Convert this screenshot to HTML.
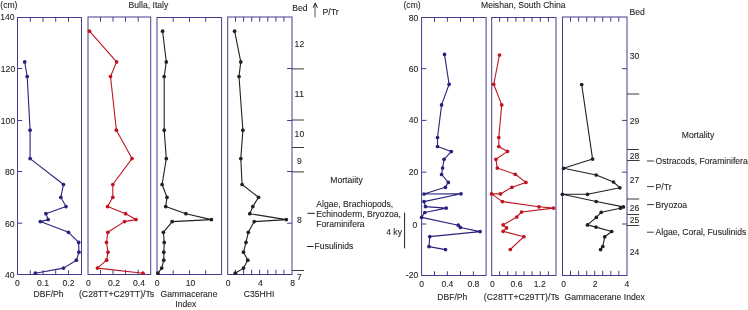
<!DOCTYPE html>
<html><head><meta charset="utf-8"><style>
html,body{margin:0;padding:0;background:#fff;}
svg{display:block;will-change:transform;}
text{font-family:"Liberation Sans",sans-serif;stroke:#231f20;stroke-width:0.1px;}
</style></head><body>
<svg width="748" height="310" viewBox="0 0 748 310">
<rect width="748" height="310" fill="#fff"/>
<rect x="17.5" y="17.5" width="64.0" height="257.0" fill="none" stroke="#443d8e" stroke-width="1.0"/>
<rect x="88.0" y="17.0" width="62.7" height="257.5" fill="none" stroke="#443d8e" stroke-width="1.0"/>
<rect x="157.0" y="17.5" width="64.6" height="257.0" fill="none" stroke="#443d8e" stroke-width="1.0"/>
<rect x="227.7" y="17.0" width="64.3" height="257.5" fill="none" stroke="#443d8e" stroke-width="1.0"/>
<line x1="30.3" y1="17.5" x2="30.3" y2="21.7" stroke="#443d8e" stroke-width="1.0"/>
<line x1="30.3" y1="274.5" x2="30.3" y2="270.3" stroke="#443d8e" stroke-width="1.0"/>
<line x1="43.0" y1="17.5" x2="43.0" y2="21.7" stroke="#443d8e" stroke-width="1.0"/>
<line x1="43.0" y1="274.5" x2="43.0" y2="270.3" stroke="#443d8e" stroke-width="1.0"/>
<line x1="55.7" y1="17.5" x2="55.7" y2="21.7" stroke="#443d8e" stroke-width="1.0"/>
<line x1="55.7" y1="274.5" x2="55.7" y2="270.3" stroke="#443d8e" stroke-width="1.0"/>
<line x1="68.5" y1="17.5" x2="68.5" y2="21.7" stroke="#443d8e" stroke-width="1.0"/>
<line x1="68.5" y1="274.5" x2="68.5" y2="270.3" stroke="#443d8e" stroke-width="1.0"/>
<line x1="100.5" y1="17.0" x2="100.5" y2="21.7" stroke="#443d8e" stroke-width="1.0"/>
<line x1="100.5" y1="274.5" x2="100.5" y2="269.8" stroke="#443d8e" stroke-width="1.0"/>
<line x1="113.0" y1="17.0" x2="113.0" y2="21.7" stroke="#443d8e" stroke-width="1.0"/>
<line x1="113.0" y1="274.5" x2="113.0" y2="269.8" stroke="#443d8e" stroke-width="1.0"/>
<line x1="125.5" y1="17.0" x2="125.5" y2="21.7" stroke="#443d8e" stroke-width="1.0"/>
<line x1="125.5" y1="274.5" x2="125.5" y2="269.8" stroke="#443d8e" stroke-width="1.0"/>
<line x1="138.2" y1="17.0" x2="138.2" y2="21.7" stroke="#443d8e" stroke-width="1.0"/>
<line x1="138.2" y1="274.5" x2="138.2" y2="269.8" stroke="#443d8e" stroke-width="1.0"/>
<line x1="173.2" y1="17.5" x2="173.2" y2="21.7" stroke="#443d8e" stroke-width="1.0"/>
<line x1="173.2" y1="274.5" x2="173.2" y2="270.3" stroke="#443d8e" stroke-width="1.0"/>
<line x1="189.5" y1="17.5" x2="189.5" y2="21.7" stroke="#443d8e" stroke-width="1.0"/>
<line x1="189.5" y1="274.5" x2="189.5" y2="270.3" stroke="#443d8e" stroke-width="1.0"/>
<line x1="205.7" y1="17.5" x2="205.7" y2="21.7" stroke="#443d8e" stroke-width="1.0"/>
<line x1="205.7" y1="274.5" x2="205.7" y2="270.3" stroke="#443d8e" stroke-width="1.0"/>
<line x1="235.5" y1="17.0" x2="235.5" y2="21.7" stroke="#443d8e" stroke-width="1.0"/>
<line x1="235.5" y1="274.5" x2="235.5" y2="269.8" stroke="#443d8e" stroke-width="1.0"/>
<line x1="243.6" y1="17.0" x2="243.6" y2="21.7" stroke="#443d8e" stroke-width="1.0"/>
<line x1="243.6" y1="274.5" x2="243.6" y2="269.8" stroke="#443d8e" stroke-width="1.0"/>
<line x1="251.7" y1="17.0" x2="251.7" y2="21.7" stroke="#443d8e" stroke-width="1.0"/>
<line x1="251.7" y1="274.5" x2="251.7" y2="269.8" stroke="#443d8e" stroke-width="1.0"/>
<line x1="259.7" y1="17.0" x2="259.7" y2="21.7" stroke="#443d8e" stroke-width="1.0"/>
<line x1="259.7" y1="274.5" x2="259.7" y2="269.8" stroke="#443d8e" stroke-width="1.0"/>
<line x1="267.8" y1="17.0" x2="267.8" y2="21.7" stroke="#443d8e" stroke-width="1.0"/>
<line x1="267.8" y1="274.5" x2="267.8" y2="269.8" stroke="#443d8e" stroke-width="1.0"/>
<line x1="275.9" y1="17.0" x2="275.9" y2="21.7" stroke="#443d8e" stroke-width="1.0"/>
<line x1="275.9" y1="274.5" x2="275.9" y2="269.8" stroke="#443d8e" stroke-width="1.0"/>
<line x1="283.9" y1="17.0" x2="283.9" y2="21.7" stroke="#443d8e" stroke-width="1.0"/>
<line x1="283.9" y1="274.5" x2="283.9" y2="269.8" stroke="#443d8e" stroke-width="1.0"/>
<line x1="17.5" y1="68.5" x2="22.3" y2="68.5" stroke="#443d8e" stroke-width="1.0"/>
<line x1="292.0" y1="68.5" x2="287.1" y2="68.5" stroke="#443d8e" stroke-width="1.0"/>
<line x1="17.5" y1="120.5" x2="22.3" y2="120.5" stroke="#443d8e" stroke-width="1.0"/>
<line x1="292.0" y1="120.5" x2="287.1" y2="120.5" stroke="#443d8e" stroke-width="1.0"/>
<line x1="17.5" y1="171.5" x2="22.3" y2="171.5" stroke="#443d8e" stroke-width="1.0"/>
<line x1="292.0" y1="171.5" x2="287.1" y2="171.5" stroke="#443d8e" stroke-width="1.0"/>
<line x1="17.5" y1="223.2" x2="22.3" y2="223.2" stroke="#443d8e" stroke-width="1.0"/>
<line x1="292.0" y1="223.2" x2="287.1" y2="223.2" stroke="#443d8e" stroke-width="1.0"/>
<line x1="292.0" y1="68.9" x2="304.0" y2="68.9" stroke="#3a3a3a" stroke-width="1.0"/>
<line x1="292.0" y1="120.0" x2="304.0" y2="120.0" stroke="#3a3a3a" stroke-width="1.0"/>
<line x1="292.0" y1="147.5" x2="304.0" y2="147.5" stroke="#3a3a3a" stroke-width="1.0"/>
<line x1="292.0" y1="171.9" x2="304.0" y2="171.9" stroke="#3a3a3a" stroke-width="1.0"/>
<line x1="292.0" y1="270.5" x2="304.0" y2="270.5" stroke="#3a3a3a" stroke-width="1.0"/>
<polyline points="24.7,61.9 27.2,76.5 30.1,130.2 30.1,158.6 63.5,184.5 60.8,197.3 66.0,206.6 45.9,213.7 48.2,219.6 40.3,221.6 68.5,232.3 78.7,242.4 78.9,252.2 76.4,260.2 63.5,268.1 35.3,273.2" fill="none" stroke="#27237c" stroke-width="1.1" stroke-linejoin="round"/>
<circle cx="24.7" cy="61.9" r="1.85" fill="#27237c"/>
<circle cx="27.2" cy="76.5" r="1.85" fill="#27237c"/>
<circle cx="30.1" cy="130.2" r="1.85" fill="#27237c"/>
<circle cx="30.1" cy="158.6" r="1.85" fill="#27237c"/>
<circle cx="63.5" cy="184.5" r="1.85" fill="#27237c"/>
<circle cx="60.8" cy="197.3" r="1.85" fill="#27237c"/>
<circle cx="66.0" cy="206.6" r="1.85" fill="#27237c"/>
<circle cx="45.9" cy="213.7" r="1.85" fill="#27237c"/>
<circle cx="48.2" cy="219.6" r="1.85" fill="#27237c"/>
<circle cx="40.3" cy="221.6" r="1.85" fill="#27237c"/>
<circle cx="68.5" cy="232.3" r="1.85" fill="#27237c"/>
<circle cx="78.7" cy="242.4" r="1.85" fill="#27237c"/>
<circle cx="78.9" cy="252.2" r="1.85" fill="#27237c"/>
<circle cx="76.4" cy="260.2" r="1.85" fill="#27237c"/>
<circle cx="63.5" cy="268.1" r="1.85" fill="#27237c"/>
<circle cx="35.3" cy="273.2" r="1.85" fill="#27237c"/>
<polyline points="89.5,31.2 116.6,61.9 110.5,76.5 116.4,130.2 132.0,158.6 112.8,184.5 112.8,197.3 107.6,206.6 125.6,213.7 136.0,219.6 124.5,221.6 107.8,232.3 106.5,242.4 108.0,252.2 106.6,260.2 97.4,268.1 143.0,273.2" fill="none" stroke="#c0141f" stroke-width="1.1" stroke-linejoin="round"/>
<circle cx="89.5" cy="31.2" r="1.85" fill="#c0141f"/>
<circle cx="116.6" cy="61.9" r="1.85" fill="#c0141f"/>
<circle cx="110.5" cy="76.5" r="1.85" fill="#c0141f"/>
<circle cx="116.4" cy="130.2" r="1.85" fill="#c0141f"/>
<circle cx="132.0" cy="158.6" r="1.85" fill="#c0141f"/>
<circle cx="112.8" cy="184.5" r="1.85" fill="#c0141f"/>
<circle cx="112.8" cy="197.3" r="1.85" fill="#c0141f"/>
<circle cx="107.6" cy="206.6" r="1.85" fill="#c0141f"/>
<circle cx="125.6" cy="213.7" r="1.85" fill="#c0141f"/>
<circle cx="136.0" cy="219.6" r="1.85" fill="#c0141f"/>
<circle cx="124.5" cy="221.6" r="1.85" fill="#c0141f"/>
<circle cx="107.8" cy="232.3" r="1.85" fill="#c0141f"/>
<circle cx="106.5" cy="242.4" r="1.85" fill="#c0141f"/>
<circle cx="108.0" cy="252.2" r="1.85" fill="#c0141f"/>
<circle cx="106.6" cy="260.2" r="1.85" fill="#c0141f"/>
<circle cx="97.4" cy="268.1" r="1.85" fill="#c0141f"/>
<circle cx="143.0" cy="273.2" r="1.85" fill="#c0141f"/>
<polyline points="162.6,31.2 166.3,61.9 164.2,76.5 164.2,130.2 166.3,158.6 162.1,184.5 167.0,197.3 165.7,206.6 185.9,213.7 211.4,219.6 172.2,221.6 163.4,232.3 164.2,242.4 163.8,252.2 163.8,260.2 161.7,268.1 157.9,273.2" fill="none" stroke="#231f20" stroke-width="1.1" stroke-linejoin="round"/>
<circle cx="162.6" cy="31.2" r="1.85" fill="#231f20"/>
<circle cx="166.3" cy="61.9" r="1.85" fill="#231f20"/>
<circle cx="164.2" cy="76.5" r="1.85" fill="#231f20"/>
<circle cx="164.2" cy="130.2" r="1.85" fill="#231f20"/>
<circle cx="166.3" cy="158.6" r="1.85" fill="#231f20"/>
<circle cx="162.1" cy="184.5" r="1.85" fill="#231f20"/>
<circle cx="167.0" cy="197.3" r="1.85" fill="#231f20"/>
<circle cx="165.7" cy="206.6" r="1.85" fill="#231f20"/>
<circle cx="185.9" cy="213.7" r="1.85" fill="#231f20"/>
<circle cx="211.4" cy="219.6" r="1.85" fill="#231f20"/>
<circle cx="172.2" cy="221.6" r="1.85" fill="#231f20"/>
<circle cx="163.4" cy="232.3" r="1.85" fill="#231f20"/>
<circle cx="164.2" cy="242.4" r="1.85" fill="#231f20"/>
<circle cx="163.8" cy="252.2" r="1.85" fill="#231f20"/>
<circle cx="163.8" cy="260.2" r="1.85" fill="#231f20"/>
<circle cx="161.7" cy="268.1" r="1.85" fill="#231f20"/>
<circle cx="157.9" cy="273.2" r="1.85" fill="#231f20"/>
<polyline points="234.6,31.2 240.8,61.9 239.0,76.5 242.9,130.2 240.8,158.6 242.1,184.5 258.5,197.3 252.8,206.6 249.8,213.7 286.3,219.6 254.2,221.6 248.3,232.3 246.0,242.4 243.5,252.2 247.8,260.2 243.5,268.1 235.3,273.2" fill="none" stroke="#231f20" stroke-width="1.1" stroke-linejoin="round"/>
<circle cx="234.6" cy="31.2" r="1.85" fill="#231f20"/>
<circle cx="240.8" cy="61.9" r="1.85" fill="#231f20"/>
<circle cx="239.0" cy="76.5" r="1.85" fill="#231f20"/>
<circle cx="242.9" cy="130.2" r="1.85" fill="#231f20"/>
<circle cx="240.8" cy="158.6" r="1.85" fill="#231f20"/>
<circle cx="242.1" cy="184.5" r="1.85" fill="#231f20"/>
<circle cx="258.5" cy="197.3" r="1.85" fill="#231f20"/>
<circle cx="252.8" cy="206.6" r="1.85" fill="#231f20"/>
<circle cx="249.8" cy="213.7" r="1.85" fill="#231f20"/>
<circle cx="286.3" cy="219.6" r="1.85" fill="#231f20"/>
<circle cx="254.2" cy="221.6" r="1.85" fill="#231f20"/>
<circle cx="248.3" cy="232.3" r="1.85" fill="#231f20"/>
<circle cx="246.0" cy="242.4" r="1.85" fill="#231f20"/>
<circle cx="243.5" cy="252.2" r="1.85" fill="#231f20"/>
<circle cx="247.8" cy="260.2" r="1.85" fill="#231f20"/>
<circle cx="243.5" cy="268.1" r="1.85" fill="#231f20"/>
<circle cx="235.3" cy="273.2" r="1.85" fill="#231f20"/>
<text x="14.6" y="20.3" font-size="8.75" text-anchor="end" textLength="14.35" lengthAdjust="spacingAndGlyphs" fill="#231f20">140</text>
<text x="15.2" y="71.7" font-size="8.75" text-anchor="end" textLength="14.35" lengthAdjust="spacingAndGlyphs" fill="#231f20">120</text>
<text x="15.2" y="123.7" font-size="8.75" text-anchor="end" textLength="14.35" lengthAdjust="spacingAndGlyphs" fill="#231f20">100</text>
<text x="14.6" y="174.5" font-size="8.75" text-anchor="end" textLength="9.57" lengthAdjust="spacingAndGlyphs" fill="#231f20">80</text>
<text x="14.6" y="226.6" font-size="8.75" text-anchor="end" textLength="9.57" lengthAdjust="spacingAndGlyphs" fill="#231f20">60</text>
<text x="14.6" y="277.6" font-size="8.75" text-anchor="end" textLength="9.57" lengthAdjust="spacingAndGlyphs" fill="#231f20">40</text>
<text x="17.5" y="285.6" font-size="8.75" text-anchor="middle" textLength="4.78" lengthAdjust="spacingAndGlyphs" fill="#231f20">0</text>
<text x="43.0" y="285.6" font-size="8.75" text-anchor="middle" textLength="11.96" lengthAdjust="spacingAndGlyphs" fill="#231f20">0.1</text>
<text x="68.5" y="285.6" font-size="8.75" text-anchor="middle" textLength="11.96" lengthAdjust="spacingAndGlyphs" fill="#231f20">0.2</text>
<text x="88.3" y="285.6" font-size="8.75" text-anchor="middle" textLength="4.78" lengthAdjust="spacingAndGlyphs" fill="#231f20">0</text>
<text x="114.0" y="285.6" font-size="8.75" text-anchor="middle" textLength="11.96" lengthAdjust="spacingAndGlyphs" fill="#231f20">0.2</text>
<text x="139.0" y="285.6" font-size="8.75" text-anchor="middle" textLength="11.96" lengthAdjust="spacingAndGlyphs" fill="#231f20">0.4</text>
<text x="157.1" y="285.6" font-size="8.75" text-anchor="middle" textLength="4.78" lengthAdjust="spacingAndGlyphs" fill="#231f20">0</text>
<text x="190.5" y="285.6" font-size="8.75" text-anchor="middle" textLength="9.57" lengthAdjust="spacingAndGlyphs" fill="#231f20">10</text>
<text x="228.1" y="285.6" font-size="8.75" text-anchor="middle" textLength="4.78" lengthAdjust="spacingAndGlyphs" fill="#231f20">0</text>
<text x="260.3" y="285.6" font-size="8.75" text-anchor="middle" textLength="4.78" lengthAdjust="spacingAndGlyphs" fill="#231f20">4</text>
<text x="292.6" y="285.6" font-size="8.75" text-anchor="middle" textLength="4.78" lengthAdjust="spacingAndGlyphs" fill="#231f20">8</text>
<text x="48.5" y="297.3" font-size="8.75" text-anchor="middle" textLength="30.11" lengthAdjust="spacingAndGlyphs" fill="#231f20">DBF/Ph</text>
<text x="116.6" y="297.3" font-size="8.75" text-anchor="middle" textLength="75.26" lengthAdjust="spacingAndGlyphs" fill="#231f20">(C28TT+C29TT)/Ts</text>
<text x="189.0" y="297.3" font-size="8.75" text-anchor="middle" textLength="56.88" lengthAdjust="spacingAndGlyphs" fill="#231f20">Gammacerane</text>
<text x="185.8" y="307.1" font-size="8.75" text-anchor="middle" textLength="21.04" lengthAdjust="spacingAndGlyphs" fill="#231f20">Index</text>
<text x="259.0" y="297.3" font-size="8.75" text-anchor="middle" textLength="30.59" lengthAdjust="spacingAndGlyphs" fill="#231f20">C35HHI</text>
<text x="0.3" y="8.0" font-size="8.75" textLength="17.19" lengthAdjust="spacingAndGlyphs" fill="#231f20">(cm)</text>
<text x="128.6" y="7.65" font-size="8.75" textLength="39.67" lengthAdjust="spacingAndGlyphs" fill="#231f20">Bulla, Italy</text>
<text x="292.3" y="10.5" font-size="8.75" textLength="15.3" lengthAdjust="spacingAndGlyphs" fill="#231f20">Bed</text>
<text x="322.5" y="14.8" font-size="8.75" textLength="16.24" lengthAdjust="spacingAndGlyphs" fill="#231f20">P/Tr</text>
<line x1="315.0" y1="17.4" x2="315.0" y2="4.0" stroke="#555555" stroke-width="1.0"/>
<path d="M313.2,7.6 L315.3,2.9 L317.3,7.8" fill="none" stroke="#231f20" stroke-width="1"/>
<text x="299.4" y="46.6" font-size="8.75" text-anchor="middle" textLength="9.57" lengthAdjust="spacingAndGlyphs" fill="#231f20">12</text>
<text x="299.4" y="97.4" font-size="8.75" text-anchor="middle" textLength="9.57" lengthAdjust="spacingAndGlyphs" fill="#231f20">11</text>
<text x="299.4" y="136.6" font-size="8.75" text-anchor="middle" textLength="9.57" lengthAdjust="spacingAndGlyphs" fill="#231f20">10</text>
<text x="299.4" y="163.8" font-size="8.75" text-anchor="middle" textLength="4.78" lengthAdjust="spacingAndGlyphs" fill="#231f20">9</text>
<text x="299.4" y="223.0" font-size="8.75" text-anchor="middle" textLength="4.78" lengthAdjust="spacingAndGlyphs" fill="#231f20">8</text>
<text x="299.4" y="280.2" font-size="8.75" text-anchor="middle" textLength="4.78" lengthAdjust="spacingAndGlyphs" fill="#231f20">7</text>
<text x="330.3" y="182.5" font-size="8.75" textLength="32.49" lengthAdjust="spacingAndGlyphs" fill="#231f20">Mortaiity</text>
<text x="316.3" y="206.9" font-size="8.75" textLength="76.97" lengthAdjust="spacingAndGlyphs" fill="#231f20">Algae, Brachiopods,</text>
<text x="316.3" y="216.8" font-size="8.75" textLength="84.61" lengthAdjust="spacingAndGlyphs" fill="#231f20">Echinoderm, Bryozoa,</text>
<text x="316.3" y="226.6" font-size="8.75" textLength="48.27" lengthAdjust="spacingAndGlyphs" fill="#231f20">Foraminifera</text>
<line x1="307.4" y1="213.3" x2="314.7" y2="213.3" stroke="#231f20" stroke-width="1.0"/>
<text x="314.6" y="249.3" font-size="8.75" textLength="38.72" lengthAdjust="spacingAndGlyphs" fill="#231f20">Fusulinids</text>
<line x1="307.0" y1="246.5" x2="313.6" y2="246.5" stroke="#231f20" stroke-width="1.0"/>
<rect x="421.6" y="17.5" width="64.5" height="258.0" fill="none" stroke="#443d8e" stroke-width="1.0"/>
<rect x="491.7" y="17.5" width="64.3" height="258.0" fill="none" stroke="#443d8e" stroke-width="1.0"/>
<rect x="562.5" y="17.0" width="64.5" height="258.5" fill="none" stroke="#443d8e" stroke-width="1.0"/>
<line x1="434.5" y1="17.5" x2="434.5" y2="21.7" stroke="#443d8e" stroke-width="1.0"/>
<line x1="434.5" y1="275.5" x2="434.5" y2="271.3" stroke="#443d8e" stroke-width="1.0"/>
<line x1="447.4" y1="17.5" x2="447.4" y2="21.7" stroke="#443d8e" stroke-width="1.0"/>
<line x1="447.4" y1="275.5" x2="447.4" y2="271.3" stroke="#443d8e" stroke-width="1.0"/>
<line x1="460.5" y1="17.5" x2="460.5" y2="21.7" stroke="#443d8e" stroke-width="1.0"/>
<line x1="460.5" y1="275.5" x2="460.5" y2="271.3" stroke="#443d8e" stroke-width="1.0"/>
<line x1="473.4" y1="17.5" x2="473.4" y2="21.7" stroke="#443d8e" stroke-width="1.0"/>
<line x1="473.4" y1="275.5" x2="473.4" y2="271.3" stroke="#443d8e" stroke-width="1.0"/>
<line x1="499.6" y1="17.5" x2="499.6" y2="21.7" stroke="#443d8e" stroke-width="1.0"/>
<line x1="499.6" y1="275.5" x2="499.6" y2="271.3" stroke="#443d8e" stroke-width="1.0"/>
<line x1="507.7" y1="17.5" x2="507.7" y2="21.7" stroke="#443d8e" stroke-width="1.0"/>
<line x1="507.7" y1="275.5" x2="507.7" y2="271.3" stroke="#443d8e" stroke-width="1.0"/>
<line x1="515.9" y1="17.5" x2="515.9" y2="21.7" stroke="#443d8e" stroke-width="1.0"/>
<line x1="515.9" y1="275.5" x2="515.9" y2="271.3" stroke="#443d8e" stroke-width="1.0"/>
<line x1="524.0" y1="17.5" x2="524.0" y2="21.7" stroke="#443d8e" stroke-width="1.0"/>
<line x1="524.0" y1="275.5" x2="524.0" y2="271.3" stroke="#443d8e" stroke-width="1.0"/>
<line x1="532.1" y1="17.5" x2="532.1" y2="21.7" stroke="#443d8e" stroke-width="1.0"/>
<line x1="532.1" y1="275.5" x2="532.1" y2="271.3" stroke="#443d8e" stroke-width="1.0"/>
<line x1="540.3" y1="17.5" x2="540.3" y2="21.7" stroke="#443d8e" stroke-width="1.0"/>
<line x1="540.3" y1="275.5" x2="540.3" y2="271.3" stroke="#443d8e" stroke-width="1.0"/>
<line x1="548.4" y1="17.5" x2="548.4" y2="21.7" stroke="#443d8e" stroke-width="1.0"/>
<line x1="548.4" y1="275.5" x2="548.4" y2="271.3" stroke="#443d8e" stroke-width="1.0"/>
<line x1="570.5" y1="17.0" x2="570.5" y2="21.7" stroke="#443d8e" stroke-width="1.0"/>
<line x1="570.5" y1="275.5" x2="570.5" y2="270.8" stroke="#443d8e" stroke-width="1.0"/>
<line x1="578.6" y1="17.0" x2="578.6" y2="21.7" stroke="#443d8e" stroke-width="1.0"/>
<line x1="578.6" y1="275.5" x2="578.6" y2="270.8" stroke="#443d8e" stroke-width="1.0"/>
<line x1="586.7" y1="17.0" x2="586.7" y2="21.7" stroke="#443d8e" stroke-width="1.0"/>
<line x1="586.7" y1="275.5" x2="586.7" y2="270.8" stroke="#443d8e" stroke-width="1.0"/>
<line x1="594.7" y1="17.0" x2="594.7" y2="21.7" stroke="#443d8e" stroke-width="1.0"/>
<line x1="594.7" y1="275.5" x2="594.7" y2="270.8" stroke="#443d8e" stroke-width="1.0"/>
<line x1="602.7" y1="17.0" x2="602.7" y2="21.7" stroke="#443d8e" stroke-width="1.0"/>
<line x1="602.7" y1="275.5" x2="602.7" y2="270.8" stroke="#443d8e" stroke-width="1.0"/>
<line x1="610.8" y1="17.0" x2="610.8" y2="21.7" stroke="#443d8e" stroke-width="1.0"/>
<line x1="610.8" y1="275.5" x2="610.8" y2="270.8" stroke="#443d8e" stroke-width="1.0"/>
<line x1="618.8" y1="17.0" x2="618.8" y2="21.7" stroke="#443d8e" stroke-width="1.0"/>
<line x1="618.8" y1="275.5" x2="618.8" y2="270.8" stroke="#443d8e" stroke-width="1.0"/>
<line x1="421.6" y1="68.7" x2="426.4" y2="68.7" stroke="#443d8e" stroke-width="1.0"/>
<line x1="627.0" y1="68.7" x2="622.0" y2="68.7" stroke="#443d8e" stroke-width="1.0"/>
<line x1="421.6" y1="120.4" x2="426.4" y2="120.4" stroke="#443d8e" stroke-width="1.0"/>
<line x1="627.0" y1="120.4" x2="622.0" y2="120.4" stroke="#443d8e" stroke-width="1.0"/>
<line x1="421.6" y1="172.2" x2="426.4" y2="172.2" stroke="#443d8e" stroke-width="1.0"/>
<line x1="627.0" y1="172.2" x2="622.0" y2="172.2" stroke="#443d8e" stroke-width="1.0"/>
<line x1="421.6" y1="224.0" x2="426.4" y2="224.0" stroke="#443d8e" stroke-width="1.0"/>
<line x1="627.0" y1="224.0" x2="622.0" y2="224.0" stroke="#443d8e" stroke-width="1.0"/>
<line x1="627.0" y1="94.0" x2="639.2" y2="94.0" stroke="#3a3a3a" stroke-width="1.0"/>
<line x1="627.0" y1="149.5" x2="638.8" y2="149.5" stroke="#3a3a3a" stroke-width="1.0"/>
<line x1="627.0" y1="160.5" x2="639.6" y2="160.5" stroke="#3a3a3a" stroke-width="1.0"/>
<line x1="627.0" y1="199.0" x2="639.2" y2="199.0" stroke="#3a3a3a" stroke-width="1.0"/>
<line x1="627.0" y1="214.5" x2="639.2" y2="214.5" stroke="#3a3a3a" stroke-width="1.0"/>
<line x1="627.0" y1="225.5" x2="639.2" y2="225.5" stroke="#3a3a3a" stroke-width="1.0"/>
<polyline points="444.5,54.4 449.1,84.3 441.6,104.9 437.5,137.5 437.5,146.5 451.3,151.6 444.0,159.3 442.6,168.0 441.6,174.5 448.3,182.4 445.4,187.3 424.0,194.0 461.0,193.8 424.0,201.6 425.5,206.6 446.2,208.1 424.8,212.5 421.6,217.4 458.3,225.2 460.4,227.5 480.1,231.6 429.8,236.6 429.0,246.6 445.5,249.6" fill="none" stroke="#27237c" stroke-width="1.1" stroke-linejoin="round"/>
<circle cx="444.5" cy="54.4" r="1.85" fill="#27237c"/>
<circle cx="449.1" cy="84.3" r="1.85" fill="#27237c"/>
<circle cx="441.6" cy="104.9" r="1.85" fill="#27237c"/>
<circle cx="437.5" cy="137.5" r="1.85" fill="#27237c"/>
<circle cx="437.5" cy="146.5" r="1.85" fill="#27237c"/>
<circle cx="451.3" cy="151.6" r="1.85" fill="#27237c"/>
<circle cx="444.0" cy="159.3" r="1.85" fill="#27237c"/>
<circle cx="442.6" cy="168.0" r="1.85" fill="#27237c"/>
<circle cx="441.6" cy="174.5" r="1.85" fill="#27237c"/>
<circle cx="448.3" cy="182.4" r="1.85" fill="#27237c"/>
<circle cx="445.4" cy="187.3" r="1.85" fill="#27237c"/>
<circle cx="424.0" cy="194.0" r="1.85" fill="#27237c"/>
<circle cx="461.0" cy="193.8" r="1.85" fill="#27237c"/>
<circle cx="424.0" cy="201.6" r="1.85" fill="#27237c"/>
<circle cx="425.5" cy="206.6" r="1.85" fill="#27237c"/>
<circle cx="446.2" cy="208.1" r="1.85" fill="#27237c"/>
<circle cx="424.8" cy="212.5" r="1.85" fill="#27237c"/>
<circle cx="421.6" cy="217.4" r="1.85" fill="#27237c"/>
<circle cx="458.3" cy="225.2" r="1.85" fill="#27237c"/>
<circle cx="460.4" cy="227.5" r="1.85" fill="#27237c"/>
<circle cx="480.1" cy="231.6" r="1.85" fill="#27237c"/>
<circle cx="429.8" cy="236.6" r="1.85" fill="#27237c"/>
<circle cx="429.0" cy="246.6" r="1.85" fill="#27237c"/>
<circle cx="445.5" cy="249.6" r="1.85" fill="#27237c"/>
<polyline points="499.5,55.0 493.7,84.3 501.7,104.9 498.8,137.5 498.8,146.5 507.5,151.4 495.9,159.3 497.3,168.1 515.3,174.3 525.9,182.4 511.9,187.3 500.4,193.9 491.6,193.9 502.4,201.6 539.0,206.8 553.5,208.1 521.6,212.0 516.7,217.0 503.1,224.9 506.5,227.9 503.1,231.3 523.9,236.7 510.3,249.5" fill="none" stroke="#c0141f" stroke-width="1.1" stroke-linejoin="round"/>
<circle cx="499.5" cy="55.0" r="1.85" fill="#c0141f"/>
<circle cx="493.7" cy="84.3" r="1.85" fill="#c0141f"/>
<circle cx="501.7" cy="104.9" r="1.85" fill="#c0141f"/>
<circle cx="498.8" cy="137.5" r="1.85" fill="#c0141f"/>
<circle cx="498.8" cy="146.5" r="1.85" fill="#c0141f"/>
<circle cx="507.5" cy="151.4" r="1.85" fill="#c0141f"/>
<circle cx="495.9" cy="159.3" r="1.85" fill="#c0141f"/>
<circle cx="497.3" cy="168.1" r="1.85" fill="#c0141f"/>
<circle cx="515.3" cy="174.3" r="1.85" fill="#c0141f"/>
<circle cx="525.9" cy="182.4" r="1.85" fill="#c0141f"/>
<circle cx="511.9" cy="187.3" r="1.85" fill="#c0141f"/>
<circle cx="500.4" cy="193.9" r="1.85" fill="#c0141f"/>
<circle cx="491.6" cy="193.9" r="1.85" fill="#c0141f"/>
<circle cx="502.4" cy="201.6" r="1.85" fill="#c0141f"/>
<circle cx="539.0" cy="206.8" r="1.85" fill="#c0141f"/>
<circle cx="553.5" cy="208.1" r="1.85" fill="#c0141f"/>
<circle cx="521.6" cy="212.0" r="1.85" fill="#c0141f"/>
<circle cx="516.7" cy="217.0" r="1.85" fill="#c0141f"/>
<circle cx="503.1" cy="224.9" r="1.85" fill="#c0141f"/>
<circle cx="506.5" cy="227.9" r="1.85" fill="#c0141f"/>
<circle cx="503.1" cy="231.3" r="1.85" fill="#c0141f"/>
<circle cx="523.9" cy="236.7" r="1.85" fill="#c0141f"/>
<circle cx="510.3" cy="249.5" r="1.85" fill="#c0141f"/>
<polyline points="581.7,84.5 592.6,159.1 563.6,168.3 596.2,175.0 613.5,182.0 619.9,187.8 587.5,194.3 562.4,194.3 596.2,201.5 623.4,206.9 620.4,208.2 601.2,212.3 596.3,217.4 587.5,224.9 596.0,227.1 611.7,231.5 604.7,236.8 602.8,246.5 600.6,249.6" fill="none" stroke="#231f20" stroke-width="1.1" stroke-linejoin="round"/>
<circle cx="581.7" cy="84.5" r="1.85" fill="#231f20"/>
<circle cx="592.6" cy="159.1" r="1.85" fill="#231f20"/>
<circle cx="563.6" cy="168.3" r="1.85" fill="#231f20"/>
<circle cx="596.2" cy="175.0" r="1.85" fill="#231f20"/>
<circle cx="613.5" cy="182.0" r="1.85" fill="#231f20"/>
<circle cx="619.9" cy="187.8" r="1.85" fill="#231f20"/>
<circle cx="587.5" cy="194.3" r="1.85" fill="#231f20"/>
<circle cx="562.4" cy="194.3" r="1.85" fill="#231f20"/>
<circle cx="596.2" cy="201.5" r="1.85" fill="#231f20"/>
<circle cx="623.4" cy="206.9" r="1.85" fill="#231f20"/>
<circle cx="620.4" cy="208.2" r="1.85" fill="#231f20"/>
<circle cx="601.2" cy="212.3" r="1.85" fill="#231f20"/>
<circle cx="596.3" cy="217.4" r="1.85" fill="#231f20"/>
<circle cx="587.5" cy="224.9" r="1.85" fill="#231f20"/>
<circle cx="596.0" cy="227.1" r="1.85" fill="#231f20"/>
<circle cx="611.7" cy="231.5" r="1.85" fill="#231f20"/>
<circle cx="604.7" cy="236.8" r="1.85" fill="#231f20"/>
<circle cx="602.8" cy="246.5" r="1.85" fill="#231f20"/>
<circle cx="600.6" cy="249.6" r="1.85" fill="#231f20"/>
<text x="418.2" y="20.6" font-size="8.75" text-anchor="end" textLength="9.57" lengthAdjust="spacingAndGlyphs" fill="#231f20">80</text>
<text x="418.2" y="71.6" font-size="8.75" text-anchor="end" textLength="9.57" lengthAdjust="spacingAndGlyphs" fill="#231f20">60</text>
<text x="418.2" y="123.39999999999999" font-size="8.75" text-anchor="end" textLength="9.57" lengthAdjust="spacingAndGlyphs" fill="#231f20">40</text>
<text x="418.2" y="175.2" font-size="8.75" text-anchor="end" textLength="9.57" lengthAdjust="spacingAndGlyphs" fill="#231f20">20</text>
<text x="418.2" y="277.90000000000003" font-size="8.75" text-anchor="end" textLength="12.43" lengthAdjust="spacingAndGlyphs" fill="#231f20">-20</text>
<text x="417.3" y="227.6" font-size="8.75" text-anchor="end" textLength="4.78" lengthAdjust="spacingAndGlyphs" fill="#231f20">0</text>
<text x="421.6" y="286.7" font-size="8.75" text-anchor="middle" textLength="4.78" lengthAdjust="spacingAndGlyphs" fill="#231f20">0</text>
<text x="447.4" y="286.7" font-size="8.75" text-anchor="middle" textLength="11.96" lengthAdjust="spacingAndGlyphs" fill="#231f20">0.4</text>
<text x="473.4" y="286.7" font-size="8.75" text-anchor="middle" textLength="11.96" lengthAdjust="spacingAndGlyphs" fill="#231f20">0.8</text>
<text x="492.5" y="286.7" font-size="8.75" text-anchor="middle" textLength="4.78" lengthAdjust="spacingAndGlyphs" fill="#231f20">0</text>
<text x="516.5" y="286.7" font-size="8.75" text-anchor="middle" textLength="11.96" lengthAdjust="spacingAndGlyphs" fill="#231f20">0.6</text>
<text x="539.7" y="286.7" font-size="8.75" text-anchor="middle" textLength="11.96" lengthAdjust="spacingAndGlyphs" fill="#231f20">1.2</text>
<text x="563.7" y="286.7" font-size="8.75" text-anchor="middle" textLength="4.78" lengthAdjust="spacingAndGlyphs" fill="#231f20">0</text>
<text x="595.2" y="286.7" font-size="8.75" text-anchor="middle" textLength="4.78" lengthAdjust="spacingAndGlyphs" fill="#231f20">2</text>
<text x="626.8" y="286.7" font-size="8.75" text-anchor="middle" textLength="4.78" lengthAdjust="spacingAndGlyphs" fill="#231f20">4</text>
<text x="452.3" y="300.3" font-size="8.75" text-anchor="middle" textLength="30.11" lengthAdjust="spacingAndGlyphs" fill="#231f20">DBF/Ph</text>
<text x="521.5" y="300.3" font-size="8.75" text-anchor="middle" textLength="75.26" lengthAdjust="spacingAndGlyphs" fill="#231f20">(C28TT+C29TT)/Ts</text>
<text x="604.7" y="300.3" font-size="8.75" text-anchor="middle" textLength="80.31" lengthAdjust="spacingAndGlyphs" fill="#231f20">Gammacerane Index</text>
<text x="403.5" y="8.2" font-size="8.75" textLength="17.19" lengthAdjust="spacingAndGlyphs" fill="#231f20">(cm)</text>
<text x="481.0" y="7.65" font-size="8.75" textLength="84.62" lengthAdjust="spacingAndGlyphs" fill="#231f20">Meishan, South China</text>
<text x="629.6" y="15.0" font-size="8.75" textLength="15.3" lengthAdjust="spacingAndGlyphs" fill="#231f20">Bed</text>
<text x="634.5" y="59.1" font-size="8.75" text-anchor="middle" textLength="9.57" lengthAdjust="spacingAndGlyphs" fill="#231f20">30</text>
<text x="634.5" y="124.0" font-size="8.75" text-anchor="middle" textLength="9.57" lengthAdjust="spacingAndGlyphs" fill="#231f20">29</text>
<text x="634.5" y="159.3" font-size="8.75" text-anchor="middle" textLength="9.57" lengthAdjust="spacingAndGlyphs" fill="#231f20">28</text>
<text x="634.5" y="182.9" font-size="8.75" text-anchor="middle" textLength="9.57" lengthAdjust="spacingAndGlyphs" fill="#231f20">27</text>
<text x="634.5" y="211.2" font-size="8.75" text-anchor="middle" textLength="9.57" lengthAdjust="spacingAndGlyphs" fill="#231f20">26</text>
<text x="634.5" y="223.2" font-size="8.75" text-anchor="middle" textLength="9.57" lengthAdjust="spacingAndGlyphs" fill="#231f20">25</text>
<text x="634.5" y="254.5" font-size="8.75" text-anchor="middle" textLength="9.57" lengthAdjust="spacingAndGlyphs" fill="#231f20">24</text>
<text x="681.8" y="138.4" font-size="8.75" textLength="32.49" lengthAdjust="spacingAndGlyphs" fill="#231f20">Mortality</text>
<text x="655.5" y="164.0" font-size="8.75" textLength="92.24" lengthAdjust="spacingAndGlyphs" fill="#231f20">Ostracods, Foraminifera</text>
<line x1="647.0" y1="161.0" x2="653.9" y2="161.0" stroke="#3a3a3a" stroke-width="1.0"/>
<text x="655.5" y="190.4" font-size="8.75" textLength="16.24" lengthAdjust="spacingAndGlyphs" fill="#231f20">P/Tr</text>
<line x1="647.0" y1="186.6" x2="653.9" y2="186.6" stroke="#3a3a3a" stroke-width="1.0"/>
<text x="655.5" y="208.2" font-size="8.75" textLength="31.55" lengthAdjust="spacingAndGlyphs" fill="#231f20">Bryozoa</text>
<line x1="647.0" y1="204.6" x2="653.9" y2="204.6" stroke="#3a3a3a" stroke-width="1.0"/>
<text x="655.5" y="234.9" font-size="8.75" textLength="90.82" lengthAdjust="spacingAndGlyphs" fill="#231f20">Algae, Coral, Fusulinids</text>
<line x1="647.0" y1="232.2" x2="653.9" y2="232.2" stroke="#3a3a3a" stroke-width="1.0"/>
<line x1="404.6" y1="212.6" x2="404.6" y2="248.4" stroke="#231f20" stroke-width="1.0"/>
<text x="386.2" y="235.1" font-size="8.75" textLength="15.77" lengthAdjust="spacingAndGlyphs" fill="#231f20">4 ky</text>
</svg>
</body></html>
